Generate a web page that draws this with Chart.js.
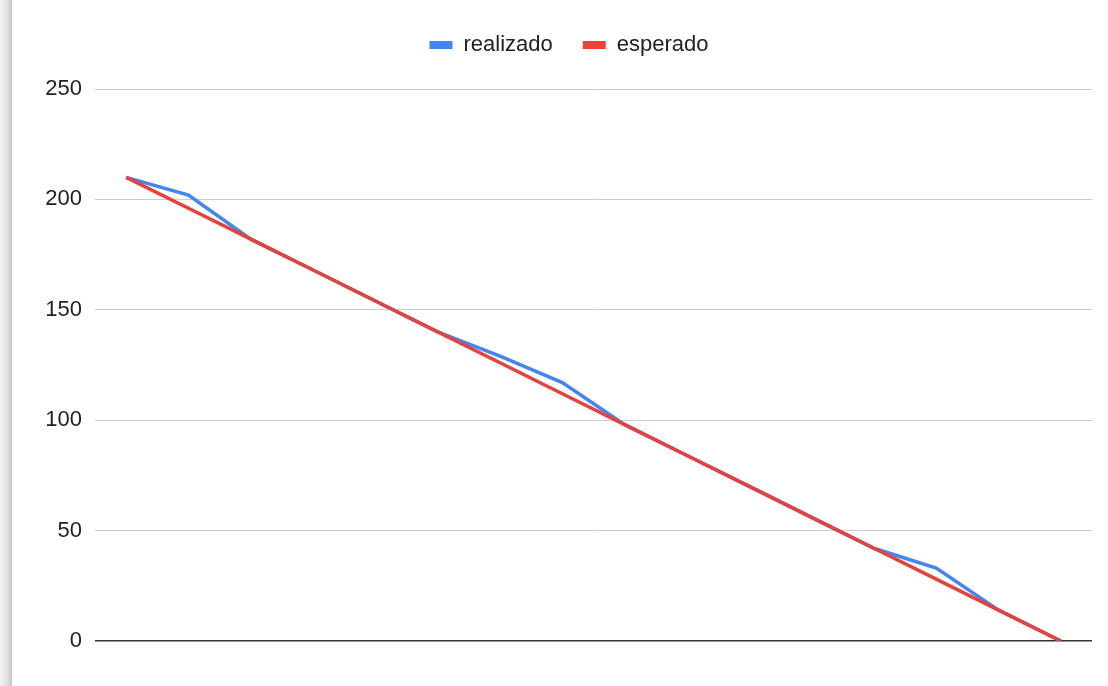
<!DOCTYPE html>
<html>
<head>
<meta charset="utf-8">
<script src="https://cdn.jsdelivr.net/npm/chart.js@4"></script>
<style>
  html, body { margin: 0; padding: 0; background: #fff; }
  #wrap { position: relative; width: 1108px; height: 686px; }
  #edge { position: absolute; left: 0; top: 0; width: 12px; height: 686px;
          background: linear-gradient(to right, #f3f3f3, #e2e2e2 60%, #c4c4c4); }
</style>
</head>
<body>
<div id="wrap">
  <canvas id="burndown"></canvas>
  <div id="edge"></div>
</div>
<script>
const dias = ['1', '2', '3', '4', '5', '6', '7', '8', '9', '10', '11', '12', '13', '14', '15', '16'];
const realizado = [210, 202, 182, 168, 154, 140, 129, 117, 98, 84, 70, 56, 42, 33, 14, 0];
const esperado = [210, 196, 182, 168, 154, 140, 126, 112, 98, 84, 70, 56, 42, 28, 14, 0];
const yTicks = [0, 50, 100, 150, 200, 250];

const ctx = document.getElementById('burndown').getContext('2d');
const fonte = '"Liberation Sans", Arial, sans-serif';

// legend gets a fixed height so the plot starts where the reference does
const legendHeight = {
    id: 'legendHeight',
    beforeInit(chart) {
        const fit = chart.legend.fit;
        chart.legend.fit = function () {
            fit.bind(chart.legend)();
            this.height = 85;
        };
    }
};

new Chart(ctx, {
    type: 'line',
    data: {
        labels: dias,
        datasets: [{
            label: 'realizado',
            data: realizado,
            borderColor: '#4285f4',
            backgroundColor: '#4285f4',
            borderWidth: 3.5,
            pointRadius: 0,
            tension: 0,
            order: 1
        }, {
            label: 'esperado',
            data: esperado,
            borderColor: '#e5433a',
            backgroundColor: '#ea4335',
            borderWidth: 3.5,
            pointRadius: 0,
            tension: 0,
            order: 0
        }]
    },
    options: {
        responsive: true,
        maintainAspectRatio: false,
        animation: false,
        layout: { padding: { top: 4, right: 16, left: 46, bottom: 0 } },
        plugins: {
            legend: {
                labels: {
                    boxWidth: 23,
                    boxHeight: 8,
                    padding: 30,
                    color: '#222',
                    font: { family: fonte, size: 22 },
                    sort: (a, b) => a.datasetIndex - b.datasetIndex,
                    generateLabels: chart => Chart.defaults.plugins.legend.labels.generateLabels(chart)
                        .map(item => Object.assign(item, { lineWidth: 0 }))
                }
            },
            tooltip: { enabled: false }
        },
        scales: {
            x: {
                offset: true,
                grid: { display: false },
                border: { display: false },
                ticks: { display: false },
                afterFit: scale => { scale.height = 45; }
            },
            y: {
                min: 0,
                max: 250,
                afterBuildTicks: scale => { scale.ticks = yTicks.map(v => ({ value: v })); },
                afterFit: scale => { scale.width = 49; },
                border: { display: false },
                grid: {
                    drawTicks: false,
                    color: ctx => ctx.tick && ctx.tick.value === 0 ? '#333' : '#ccc',
                    lineWidth: ctx => ctx.tick && ctx.tick.value === 0 ? 1.5 : 1
                },
                ticks: {
                    padding: 13,
                    color: '#222',
                    font: { family: fonte, size: 22 }
                }
            }
        }
    },
    plugins: [legendHeight]
});
</script>
</body>
</html>
